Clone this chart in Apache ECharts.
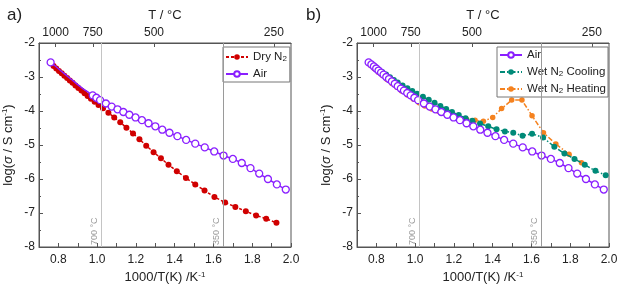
<!DOCTYPE html>
<html><head><meta charset="utf-8">
<script src="https://cdn.jsdelivr.net/npm/echarts@6/dist/echarts.min.js"></script>
<style>html,body{margin:0;padding:0;background:#fff}#c{width:620px;height:284px}</style>
</head><body><div id="c"></div>
<script>
// ---- data ----
const airX = [0.760,0.774,0.787,0.799,0.811,0.824,0.837,0.851,0.865,0.880,0.895,0.910,0.926,0.942,0.959,0.977,0.996,1.015,1.045,1.075,1.105,1.135,1.166,1.198,1.231,1.265,1.300,1.336,1.373,1.414,1.459,1.506,1.555,1.604,1.652,1.700,1.746,1.791,1.836,1.881,1.927,1.973];
const airY = [-2.57,-2.63,-2.69,-2.75,-2.81,-2.87,-2.93,-3.00,-3.06,-3.13,-3.20,-3.27,-3.34,-3.40,-3.47,-3.54,-3.61,-3.68,-3.78,-3.87,-3.95,-4.03,-4.11,-4.19,-4.27,-4.36,-4.45,-4.55,-4.64,-4.74,-4.85,-4.96,-5.07,-5.19,-5.31,-5.41,-5.53,-5.68,-5.84,-6.00,-6.16,-6.31];
const dryX = [0.775,0.789,0.803,0.817,0.831,0.845,0.859,0.873,0.888,0.903,0.919,0.935,0.951,0.968,0.987,1.007,1.030,1.058,1.088,1.119,1.151,1.185,1.218,1.253,1.291,1.329,1.368,1.411,1.458,1.506,1.554,1.605,1.660,1.713,1.767,1.820,1.872,1.925];
const dryY = [-2.68,-2.75,-2.82,-2.89,-2.96,-3.03,-3.10,-3.17,-3.25,-3.32,-3.40,-3.48,-3.56,-3.64,-3.73,-3.82,-3.92,-4.05,-4.19,-4.33,-4.49,-4.66,-4.83,-5.02,-5.21,-5.39,-5.58,-5.77,-5.97,-6.16,-6.34,-6.53,-6.69,-6.82,-6.95,-7.07,-7.17,-7.29];
const coolX = [0.770,0.790,0.810,0.830,0.850,0.870,0.890,0.910,0.935,0.960,0.985,1.010,1.040,1.070,1.100,1.130,1.160,1.190,1.225,1.260,1.295,1.335,1.377,1.420,1.463,1.506,1.554,1.603,1.660,1.718,1.770,1.822,1.875,1.930,1.983];
const coolY = [-2.61,-2.69,-2.77,-2.85,-2.93,-3.01,-3.09,-3.16,-3.25,-3.33,-3.41,-3.49,-3.58,-3.67,-3.76,-3.85,-3.94,-4.03,-4.12,-4.21,-4.29,-4.37,-4.45,-4.54,-4.60,-4.64,-4.73,-4.67,-4.78,-5.05,-5.25,-5.41,-5.58,-5.76,-5.89];
const heatX = [0.770,0.790,0.810,0.830,0.855,0.880,0.905,0.930,0.960,0.990,1.020,1.050,1.085,1.120,1.155,1.190,1.225,1.265,1.309,1.352,1.400,1.446,1.498,1.551,1.603,1.662,1.726,1.794,1.858];
const heatY = [-2.66,-2.76,-2.86,-2.95,-3.07,-3.19,-3.30,-3.41,-3.53,-3.65,-3.76,-3.85,-3.94,-4.01,-4.08,-4.14,-4.19,-4.24,-4.27,-4.30,-4.19,-3.93,-3.68,-3.68,-4.14,-4.64,-4.97,-5.27,-5.52];
const topTemps = [1000, 750, 500, 250];           // °C tick labels on top axis
const bottomLabels = [0.8, 1.0, 1.2, 1.4, 1.6, 1.8, 2.0];
const refLineX = [1.02, 1.65];
const refLineLabels = ['700 °C', '350 °C'];
const airHiddenBelow = 0.97;  // panel a: Air markers not drawn in dense high-T part

// ---- styling ----
const FONT = 'Liberation Sans, Arial, sans-serif';
const AX = '#555';
const TXT = '#222';
const C_DRY = '#d00000', C_AIR = '#8a1fff', C_COOL = '#008a78', C_HEAT = '#f5821f';

const pairs = (xs, ys) => xs.map((x, i) => [x, ys[i]]);
const richSub = {
  s: {fontSize: 8, fontFamily: FONT, color: TXT, verticalAlign: 'bottom', lineHeight: 8, padding: [5, 0, 0, 0]}
};
const legendFmt = n => n.replace('N2', 'N{s|2}');

function axesFor(gi) {
  const bottom = {
    type: 'value', gridIndex: gi, position: 'bottom', min: 0.7, max: 2.0, interval: 0.1,
    axisLine: {show: true, lineStyle: {color: AX, width: 1}},
    axisTick: {show: true, inside: true, length: 4, lineStyle: {color: AX}},
    splitLine: {show: false},
    axisLabel: {customValues: bottomLabels, formatter: v => v.toFixed(1), color: TXT, fontSize: 12, fontFamily: FONT, margin: 7},
    name: '{a|1000/T(K) /K}{p|-1}', nameLocation: 'middle', nameGap: 20,
    nameTextStyle: {color: TXT, fontSize: 13, fontFamily: FONT, rich: {
      a: {fontSize: 13, fontFamily: FONT, color: TXT, lineHeight: 14},
      p: {fontSize: 8, fontFamily: FONT, color: TXT, verticalAlign: 'top', lineHeight: 8, padding: [0, 0, 6, 0]}
    }}
  };
  const tv = topTemps.map(t => 1000 / (t + 273.15));
  const top = {
    type: 'value', gridIndex: gi, position: 'top', min: 0.7, max: 2.0,
    axisLine: {show: true, lineStyle: {color: AX, width: 1}},
    axisTick: {show: true, inside: true, length: 4, customValues: tv, lineStyle: {color: AX}},
    splitLine: {show: false},
    axisLabel: {customValues: tv, formatter: v => String(Math.round(1000 / v - 273.15)), color: TXT, fontSize: 12, fontFamily: FONT, margin: 4},
    name: 'T / °C', nameLocation: 'middle', nameGap: 21,
    nameTextStyle: {color: TXT, fontSize: 13, fontFamily: FONT}
  };
  return [bottom, top];
}
function yAxisFor(gi) {
  return {
    type: 'value', gridIndex: gi, min: -8, max: -2, interval: 1,
    axisLine: {show: true, lineStyle: {color: AX, width: 1}},
    axisTick: {show: true, inside: true, length: 4, lineStyle: {color: AX}},
    minorTick: {show: true, splitNumber: 2, length: 2, lineStyle: {color: AX}},
    splitLine: {show: false},
    axisLabel: {color: TXT, fontSize: 12, fontFamily: FONT, margin: 4},
    name: '{a|log(}{i|σ}{a| / S cm}{p|-1}{a|)}', nameLocation: 'middle', nameGap: 24, nameRotate: 90,
    nameTextStyle: {rich: {
      a: {fontSize: 13, fontFamily: FONT, color: TXT, lineHeight: 14},
      i: {fontSize: 13, fontFamily: FONT, color: TXT, fontStyle: 'italic', lineHeight: 14},
      p: {fontSize: 8, fontFamily: FONT, color: TXT, verticalAlign: 'top', lineHeight: 8, padding: [0, 0, 6, 0]}
    }}
  };
}
function refMarkLine() {
  return {
    silent: true, symbol: ['none', 'none'], animation: false,
    data: refLineX.map((x, i) => ({
      xAxis: x,
      lineStyle: {color: i === 0 ? '#c4c4c4' : '#9a9a9a', width: 1, type: 'solid'},
      label: {show: true, formatter: refLineLabels[i], position: 'insideStartTop', color: '#999', fontSize: 9, fontFamily: FONT, distance: 2}
    }))
  };
}

const [xa0b, xa0t] = axesFor(0);
const [xa1b, xa1t] = axesFor(1);

const airOpen = {color: '#fff', borderColor: C_AIR, borderWidth: 1.3};

const option = {
  animation: false,
  backgroundColor: '#fff',
  textStyle: {fontFamily: FONT},
  grid: [
    {left: 39, top: 43, width: 252, height: 204, show: true, borderColor: AX, borderWidth: 1, outerBoundsMode: 'none', containLabel: false},
    {left: 357, top: 43, width: 252, height: 204, show: true, borderColor: AX, borderWidth: 1, outerBoundsMode: 'none', containLabel: false}
  ],
  xAxis: [xa0b, xa0t, xa1b, xa1t],
  yAxis: [yAxisFor(0), yAxisFor(1)],
  title: [
    {text: 'a)', left: 2, top: 2, textStyle: {fontSize: 17, fontWeight: 'normal', color: TXT, fontFamily: FONT}},
    {text: 'b)', left: 301, top: 2, textStyle: {fontSize: 17, fontWeight: 'normal', color: TXT, fontFamily: FONT}}
  ],
  legend: [
    {data: ['Dry N2', 'Air'], orient: 'vertical', left: 223, top: 47, itemWidth: 22, itemHeight: 7, itemGap: 5,
     padding: [3, 3, 2, 2], borderColor: '#777', borderWidth: 1, backgroundColor: '#fff',
     formatter: legendFmt,
     textStyle: {fontSize: 11.5, fontFamily: FONT, color: TXT, rich: richSub}},
    {data: ['Air', 'Wet N2 Cooling', 'Wet N2 Heating'], orient: 'vertical', left: 497, top: 47, itemWidth: 22, itemHeight: 7, itemGap: 4,
     padding: [2, 2, 2, 2], borderColor: '#777', borderWidth: 1, backgroundColor: '#fff',
     formatter: legendFmt,
     textStyle: {fontSize: 11.5, fontFamily: FONT, color: TXT, rich: richSub}}
  ],
  series: [
    {name: 'Dry N2', type: 'line', xAxisIndex: 0, yAxisIndex: 0, data: pairs(dryX, dryY),
     symbol: 'circle', symbolSize: 6, itemStyle: {color: C_DRY},
     lineStyle: {color: C_DRY, width: 1.5, type: [3, 2]}, z: 2},
    {name: 'Air', type: 'line', xAxisIndex: 0, yAxisIndex: 0,
     data: pairs(airX, airY).map((p, i) => (i > 0 && p[0] < airHiddenBelow) ? {value: p, symbol: 'none'} : p),
     symbol: 'circle', symbolSize: 7, showAllSymbol: true, itemStyle: airOpen,
     lineStyle: {color: C_AIR, width: 1.5}, z: 3, markLine: refMarkLine()},
    {name: 'Wet N2 Heating', type: 'line', xAxisIndex: 2, yAxisIndex: 1, data: pairs(heatX, heatY),
     symbol: 'circle', symbolSize: 5.5, itemStyle: {color: C_HEAT},
     lineStyle: {color: C_HEAT, width: 1.5, type: [5, 2, 1.5, 2]}, z: 2, markLine: refMarkLine()},
    {name: 'Wet N2 Cooling', type: 'line', xAxisIndex: 2, yAxisIndex: 1, data: pairs(coolX, coolY),
     symbol: 'circle', symbolSize: 6, itemStyle: {color: C_COOL},
     lineStyle: {color: C_COOL, width: 1.5, type: [5, 2, 1.5, 2]}, z: 3},
    {name: 'Air', type: 'line', xAxisIndex: 2, yAxisIndex: 1, data: pairs(airX, airY),
     symbol: 'circle', symbolSize: 7, showAllSymbol: true, itemStyle: airOpen,
     lineStyle: {color: C_AIR, width: 1.5}, z: 4}
  ]
};
echarts.init(document.getElementById('c'), null, {renderer: 'canvas'}).setOption(option);
</script></body></html>
